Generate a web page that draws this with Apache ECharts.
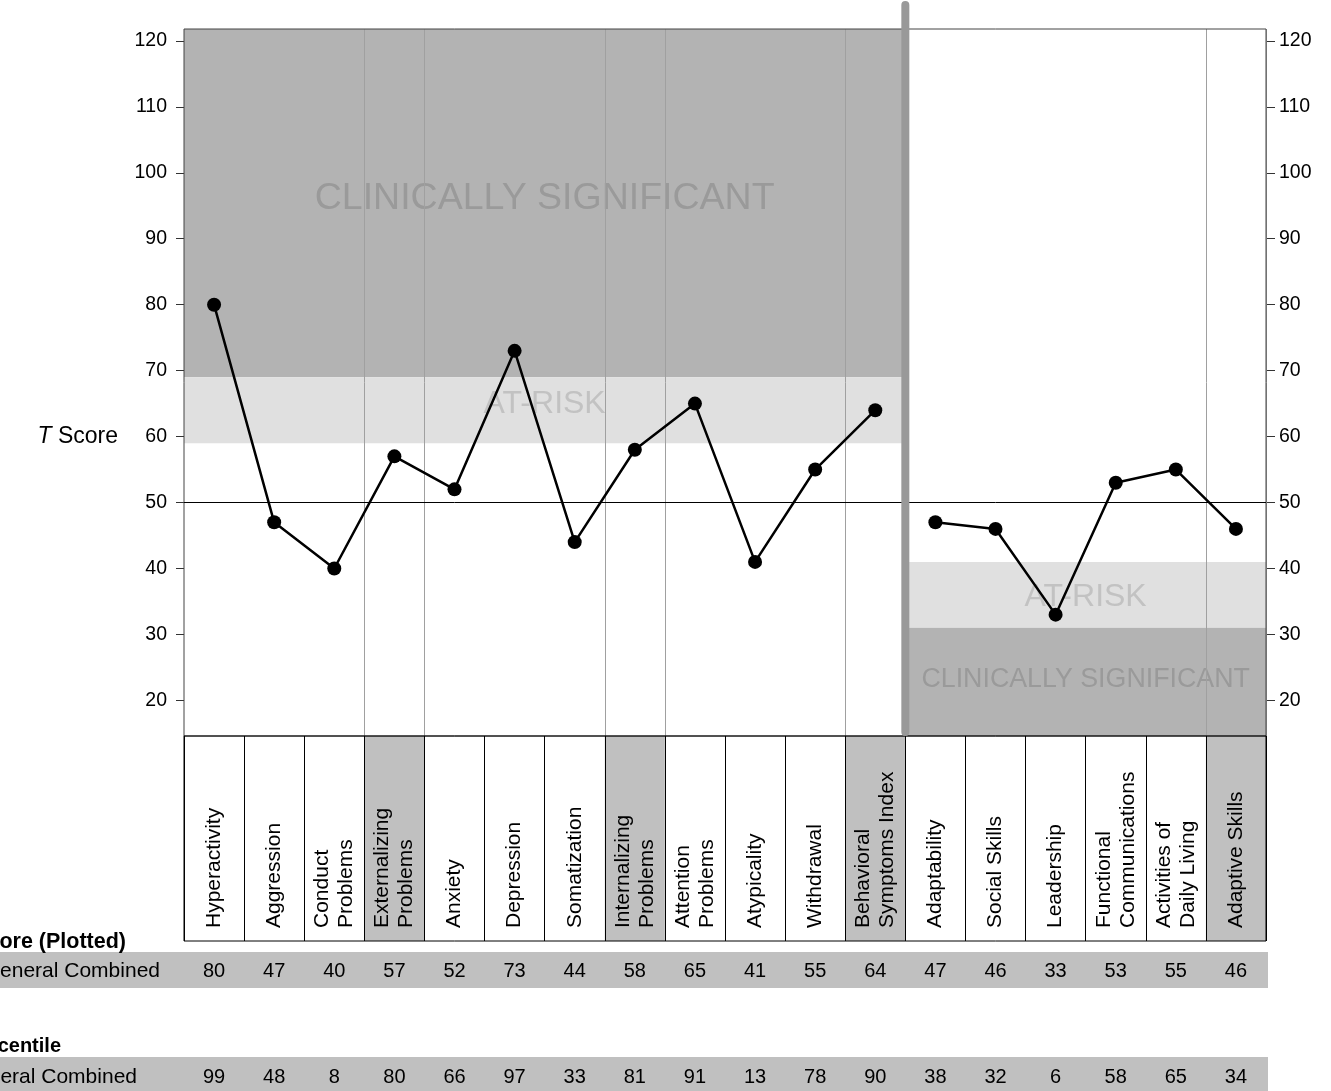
<!DOCTYPE html>
<html><head><meta charset="utf-8">
<script src="https://cdn.jsdelivr.net/npm/echarts@6/dist/echarts.min.js"></script>
<style>html,body{margin:0;padding:0;background:#fff}#c{width:1331px;height:1091px}</style>
</head><body><div id="c"></div>
<script>
const categories = ['Hyperactivity','Aggression','Conduct\nProblems','Externalizing\nProblems','Anxiety','Depression','Somatization','Internalizing\nProblems','Attention\nProblems','Atypicality','Withdrawal','Behavioral\nSymptoms Index','Adaptability','Social Skills','Leadership','Functional\nCommunications','Activities of\nDaily Living','Adaptive Skills'];
const compositeFlags = [false,false,false,true,false,false,false,true,false,false,false,true,false,false,false,false,false,true];
const tScores = [80,47,40,57,52,73,44,58,65,41,55,64,47,46,33,53,55,46];
const percentiles = [99,48,8,80,66,97,33,81,91,13,78,90,38,32,6,58,65,34];
const yTickValues = [20,30,40,50,60,70,80,90,100,110,120];
const yMin = 14.6, yMax = 121.8;
const problemAtRisk = [59, 69];
const problemClinical = [69, yMax];
const adaptiveAtRisk = [31, 41];
const adaptiveClinical = [yMin, 31];
const referenceLine = 50;
const problemCount = 12;
const rowTitles = ['T Score (Plotted)', 'Percentile'];
const rowLabels = ['General Combined', 'General Combined'];

const FONT = '"Liberation Sans", Arial, sans-serif';
const n = categories.length;
const chart = echarts.init(document.getElementById('c'));

const lineA = tScores.map((v,i)=> i < problemCount ? v : '-');
const lineB = tScores.map((v,i)=> i >= problemCount ? v : '-');
const compositeBars = compositeFlags.map(f => f ? 1 : '-');
const splitSet = new Set();
compositeFlags.forEach((f,i)=>{ if(f){ splitSet.add(i); if(i+1<n) splitSet.add(i+1);} });

const bandLabel = (size, color, dy) => ({show:true, position:'inside', fontSize:size, color:color, fontFamily:FONT, offset:[0,dy]});

chart.setOption({
  animation:false,
  grid:[
    {left:184, top:29, width:1082, height:707, show:true, borderColor:'#444', borderWidth:1, backgroundColor:'transparent', z:3},
    {left:184, top:736, width:1082, height:205, show:true, borderColor:'#000', borderWidth:1, backgroundColor:'transparent', z:3}
  ],
  xAxis:[
    {type:'category', gridIndex:0, data:categories, boundaryGap:true,
     axisLine:{show:false}, axisTick:{show:false}, axisLabel:{show:false},
     splitLine:{show:true, interval:(i)=>splitSet.has(i), lineStyle:{color:'#a0a0a0', width:1}}, z:2},
    {type:'value', gridIndex:0, min:0, max:n, show:false},
    {type:'category', gridIndex:1, data:categories, position:'bottom',
     axisLine:{show:false}, axisTick:{show:false},
     splitLine:{show:true, interval:0, lineStyle:{color:'#000', width:1}},
     axisLabel:{inside:true, rotate:90, margin:13, interval:0, fontSize:21, lineHeight:24, color:'#000', fontFamily:FONT}, z:5}
  ],
  yAxis:[
    {type:'value', gridIndex:0, min:yMin, max:yMax, position:'left', offset:3,
     axisLine:{show:false}, splitLine:{show:false},
     axisTick:{show:true, length:8, customValues:yTickValues, lineStyle:{color:'#333'}},
     axisLabel:{customValues:yTickValues, margin:14, fontSize:19.5, color:'#000', fontFamily:FONT}},
    {type:'value', gridIndex:0, min:yMin, max:yMax, position:'right',
     axisLine:{show:false}, splitLine:{show:false},
     axisTick:{show:true, length:9, customValues:yTickValues, lineStyle:{color:'#333'}},
     axisLabel:{customValues:yTickValues, margin:13, fontSize:19.5, color:'#000', fontFamily:FONT}},
    {type:'value', gridIndex:1, min:0, max:1, show:false}
  ],
  series:[
    {type:'line', xAxisIndex:1, yAxisIndex:0, data:[], silent:true,
     markArea:{silent:true, data:[
       [{xAxis:0, yAxis:problemClinical[0], name:'CLINICALLY SIGNIFICANT', itemStyle:{color:'#b3b3b3'}, label:bandLabel(37.5,'#9a9a9a',-4)},
        {xAxis:problemCount, yAxis:problemClinical[1]}],
       [{xAxis:0, yAxis:problemAtRisk[0], name:'AT-RISK', itemStyle:{color:'#e0e0e0'}, label:bandLabel(32,'#c2c2c2',-6)},
        {xAxis:problemCount, yAxis:problemAtRisk[1]}],
       [{xAxis:problemCount, yAxis:adaptiveAtRisk[0], name:'AT-RISK', itemStyle:{color:'#e0e0e0'}, label:bandLabel(32,'#c2c2c2',2)},
        {xAxis:n, yAxis:adaptiveAtRisk[1]}],
       [{xAxis:problemCount, yAxis:adaptiveClinical[0], name:'CLINICALLY SIGNIFICANT', itemStyle:{color:'#b3b3b3'}, label:bandLabel(26.8,'#9a9a9a',-2)},
        {xAxis:n, yAxis:adaptiveClinical[1]}]
     ]},
     markLine:{silent:true, symbol:'none', label:{show:false}, lineStyle:{color:'#000', width:1, type:'solid'}, data:[{yAxis:referenceLine}]}
    },
    {type:'line', xAxisIndex:0, yAxisIndex:0, data:lineA, symbol:'circle', symbolSize:14, z:4,
     itemStyle:{color:'#000'}, lineStyle:{color:'#000', width:2.5}},
    {type:'line', xAxisIndex:0, yAxisIndex:0, data:lineB, symbol:'circle', symbolSize:14, z:4,
     itemStyle:{color:'#000'}, lineStyle:{color:'#000', width:2.5}},
    {type:'bar', xAxisIndex:2, yAxisIndex:2, data:compositeBars, barWidth:'100%', silent:true,
     itemStyle:{color:'#c0c0c0'}, z:1}
  ]
});

const dividerX = chart.convertToPixel({xAxisIndex:1}, problemCount);
const topY = chart.convertToPixel({yAxisIndex:0}, yMax);
const botY = chart.convertToPixel({yAxisIndex:0}, yMin);
const elements = [
  {type:'line', z:100, shape:{x1:dividerX, y1:topY-24, x2:dividerX, y2:botY-4},
   style:{stroke:'#999', lineWidth:8, lineCap:'round'}},
  {type:'text', z:100, x:118, y:437,
   style:{text:'{i|T} Score', rich:{i:{fontStyle:'italic', fontSize:23, fontFamily:FONT, fill:'#000'}},
          fontSize:23, fontFamily:FONT, fill:'#000', align:'right', verticalAlign:'middle'}},
  {type:'rect', z:0, shape:{x:0, y:952, width:1268, height:36}, style:{fill:'#c0c0c0'}},
  {type:'rect', z:0, shape:{x:0, y:1057, width:1268, height:40}, style:{fill:'#c0c0c0'}},
  {type:'text', z:10, x:126, y:942, style:{text:rowTitles[0], fontSize:21.5, fontWeight:'bold', fontFamily:FONT, fill:'#000', align:'right', verticalAlign:'middle'}},
  {type:'text', z:10, x:61, y:1046, style:{text:rowTitles[1], fontSize:20, fontWeight:'bold', fontFamily:FONT, fill:'#000', align:'right', verticalAlign:'middle'}},
  {type:'text', z:10, x:160, y:971, style:{text:rowLabels[0], fontSize:21, fontFamily:FONT, fill:'#000', align:'right', verticalAlign:'middle'}},
  {type:'text', z:10, x:137, y:1077, style:{text:rowLabels[1], fontSize:21, fontFamily:FONT, fill:'#000', align:'right', verticalAlign:'middle'}}
];
for (let i=0;i<n;i++){
  const cx = chart.convertToPixel({xAxisIndex:0}, i);
  elements.push({type:'text', z:10, x:cx, y:971, style:{text:String(tScores[i]), fontSize:20, fontFamily:FONT, fill:'#000', align:'center', verticalAlign:'middle'}});
  elements.push({type:'text', z:10, x:cx, y:1077, style:{text:String(percentiles[i]), fontSize:20, fontFamily:FONT, fill:'#000', align:'center', verticalAlign:'middle'}});
}
chart.setOption({graphic:{elements}});
</script></body></html>
